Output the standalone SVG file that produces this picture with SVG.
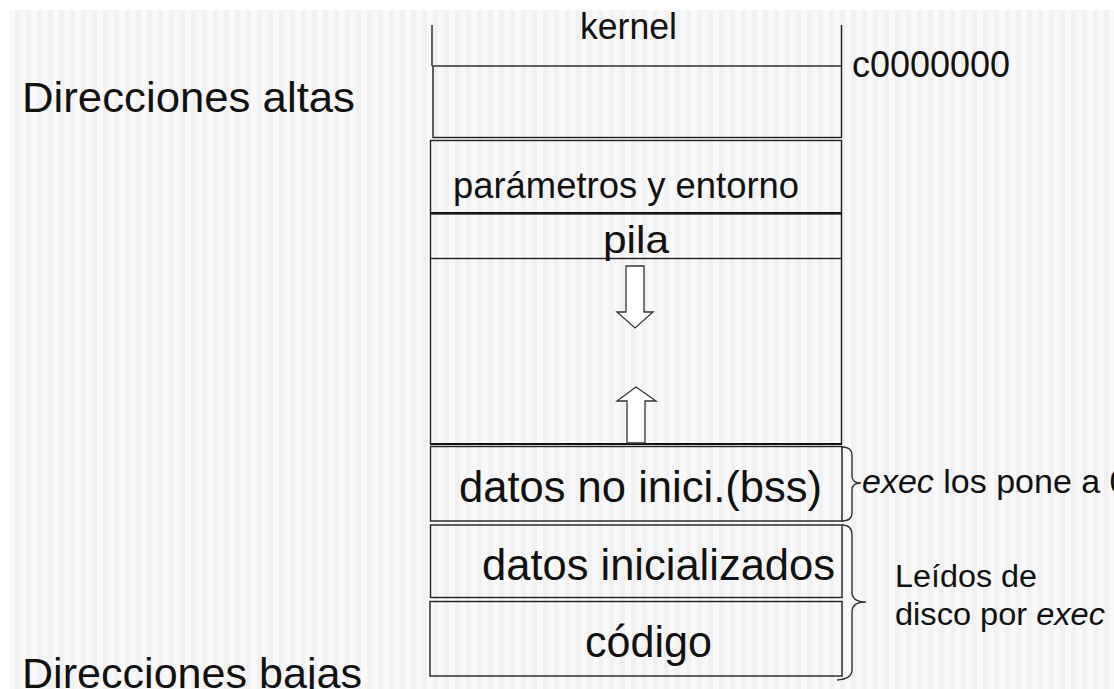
<svg xmlns="http://www.w3.org/2000/svg" width="1114" height="689" viewBox="0 0 1114 689">
<defs>
<pattern id="stripes" x="9" y="0" width="22" height="10" patternUnits="userSpaceOnUse">
<rect x="0" y="0" width="22" height="10" fill="#f1f1f1"/>
<rect x="0" y="0" width="6" height="10" fill="#f9f9f9"/>
<rect x="11" y="0" width="6" height="10" fill="#f8f8f8"/>
</pattern>
<style>
.t{font-family:"Liberation Sans",Arial,sans-serif;fill:#111}
.box{fill:none;stroke:#222;stroke-width:1.4}
.ln{stroke:#222;stroke-width:1.4;fill:none}
.thick{stroke:#111;stroke-width:2.2;fill:none}
.arr{fill:#fff;stroke:#333;stroke-width:1.3}
.br{fill:none;stroke:#333;stroke-width:1.4}
</style>
</defs>
<rect width="1114" height="689" fill="#fff"/>
<rect x="9" y="10" width="1105" height="679" fill="url(#stripes)"/>

<text class="t" x="22" y="112" font-size="43" textLength="333" lengthAdjust="spacingAndGlyphs">Direcciones altas</text>
<text class="t" x="22" y="688" font-size="43" textLength="340" lengthAdjust="spacingAndGlyphs">Direcciones bajas</text>

<g id="kernel">
<line class="ln" x1="432" y1="25" x2="432" y2="66"/>
<line class="ln" x1="841.5" y1="25" x2="841.5" y2="66"/>
<rect class="box" x="433" y="66" width="408.5" height="71.5"/>
<text class="t" x="580" y="39" font-size="36" textLength="97" lengthAdjust="spacingAndGlyphs">kernel</text>
<text class="t" x="852" y="77" font-size="36" textLength="158" lengthAdjust="spacingAndGlyphs">c0000000</text>
</g>

<g id="parametros">
<rect class="box" x="430.5" y="140.5" width="411" height="72.5"/>
<line class="thick" x1="430" y1="213" x2="842" y2="213"/>
<text class="t" x="453" y="198" font-size="36" textLength="346" lengthAdjust="spacingAndGlyphs">parámetros y entorno</text>
</g>

<g id="pila">
<rect class="box" x="430.5" y="214" width="411" height="44.5"/>
<text class="t" x="603" y="253" font-size="39" textLength="66" lengthAdjust="spacingAndGlyphs">pila</text>
</g>

<g id="libre">
<line class="ln" x1="430.5" y1="258.5" x2="430.5" y2="444"/>
<line class="ln" x1="841.5" y1="258.5" x2="841.5" y2="444"/>
<line class="thick" x1="430" y1="444" x2="842" y2="444"/>
<polygon class="arr" points="626,266 644,266 644,312 653,312 635,328 617,312 626,312"/>
<polygon class="arr" points="636,387 656,401 645,401 645,443 627,443 627,401 617,401"/>
</g>

<g id="bss">
<rect class="box" x="430.5" y="446.5" width="411.5" height="74.5"/>
<text class="t" x="459" y="502" font-size="43.5" textLength="363" lengthAdjust="spacingAndGlyphs">datos no inici.(bss)</text>
</g>

<g id="datos">
<rect class="box" x="430.5" y="525" width="411.5" height="72.5"/>
<text class="t" x="482" y="580" font-size="43.5" textLength="353" lengthAdjust="spacingAndGlyphs">datos inicializados</text>
</g>

<g id="codigo">
<rect class="box" x="430" y="601.5" width="412" height="74.5"/>
<text class="t" x="585" y="657" font-size="43.5" textLength="127" lengthAdjust="spacingAndGlyphs">código</text>
</g>

<g id="connectors">
<path class="br" d="M842,447 Q852,447 852,455 L852,476 Q852,483 861,483 Q852,483 852,490 L852,513 Q852,521 842,521"/>
<path class="br" d="M842,525 Q852,525 852,535 L852,592 Q852,602 866,602 Q852,602 852,612 L852,670 Q852,679 837,680"/>
</g>

<g id="notas">
<text class="t" x="862" y="493" font-size="34"><tspan font-style="italic">exec</tspan> los pone a 0</text>
<text class="t" x="895" y="587" font-size="31" textLength="142" lengthAdjust="spacingAndGlyphs">Leídos de</text>
<text class="t" x="895" y="625" font-size="31" textLength="210" lengthAdjust="spacingAndGlyphs">disco por <tspan font-style="italic">exec</tspan></text>
</g>
</svg>
